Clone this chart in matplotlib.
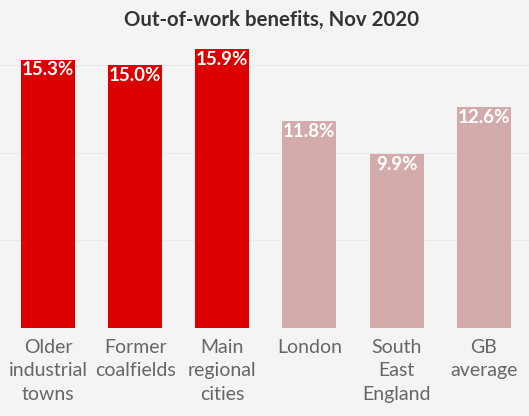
import matplotlib.pyplot as plt

categories = ["Older\nindustrial\ntowns", "Former\ncoalfields", "Main\nregional\ncities",
              "London", "South\nEast\nEngland", "GB\naverage"]
values = [15.3, 15.0, 15.9, 11.8, 9.9, 12.6]
colors = ["#DD0000", "#DD0000", "#DD0000", "#D4ABAB", "#D4ABAB", "#D4ABAB"]

plt.rcParams['font.family'] = ['Lato', 'DejaVu Sans']
bg = "#F4F4F4"

fig = plt.figure(figsize=(5.29, 4.16), dpi=100, facecolor=bg)
ax = fig.add_axes([0.0, 0.212, 1.0, 0.695])
ax.set_facecolor(bg)

x = list(range(len(values)))
ax.bar(x, values, width=0.62, color=colors, zorder=2)
for xi, v in zip(x, values):
    ax.text(xi, v - 0.1, f"{v:.1f}%", ha='center', va='top', color='white',
            fontsize=13.5, fontweight='bold', zorder=3)

ax.set_xlim(-0.55, 5.52)
ax.set_ylim(0, 16.5)
ax.set_yticks([5, 10, 15])
ax.yaxis.grid(True, color="#EAEAEA", linewidth=0.8, zorder=0)
ax.tick_params(axis='y', left=False, labelleft=False)
ax.tick_params(axis='x', length=0, pad=8)
ax.set_xticks(x)
ax.set_xticklabels(categories, fontsize=14, color="#666666", linespacing=1.45, va='top')
for s in ax.spines.values():
    s.set_visible(False)

fig.text(0.514, 0.952, "Out-of-work benefits, Nov 2020", fontsize=14.7, fontweight='bold',
         color="#333333", ha='center', va='center')

fig.savefig("out.png", dpi=100, facecolor=bg)
